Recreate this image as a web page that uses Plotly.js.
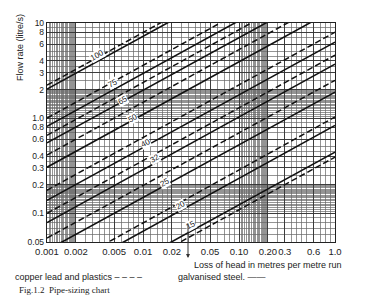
<!DOCTYPE html>
<html><head><meta charset="utf-8">
<script src="https://cdn.plot.ly/plotly-3.0.1.min.js"></script>
<style>html,body{margin:0;padding:0;background:#fff}#chart{width:368px;height:300px}</style>
</head><body><div id="chart"></div>
<script>
// tick labels
const xTickVals = [0.001,0.002,0.005,0.01,0.02,0.05,0.1,0.2,0.3,0.6,1.0];
const xTickText = ['0.001','0.002','0.005','0.01','0.02','0.05','0.10','0.20','0.3','0.6','1.0'];
const yTickVals = [10,8,6,4,3,2,1,0.8,0.6,0.4,0.3,0.2,0.1,0.05];
const yTickText = ['10','8','6','4','3','2','1.0','0.8','0.6','0.4','0.3','0.2','0.1','0.05'];

// pipe sizes (mm) and line end values (loss of head 0.001 and 1.0 m/m -> flow litre/s)
const headEnds = [0.001, 1.0];
const pipeSizes = ['100','75','65','50','40','32','25','20','15'];
const copperStart = [2.22, 1.0, 0.66, 0.41, 0.175, 0.10, 0.055, 0.022, 0.0085];
const copperEnd   = [102, 46, 30.5, 18.8, 8.0, 4.6, 2.5, 1.03, 0.39];
const steelStart  = [2.02, 0.82, 0.55, 0.305, 0.137, 0.080, 0.041, 0.018, 0.0096];
const steelEnd    = [93, 38, 25, 14, 6.3, 3.7, 1.88, 0.84, 0.44];
// label positions along the lines
const labelHead = [0.0033, 0.0048, 0.0061, 0.0077, 0.0105, 0.0133, 0.0169, 0.0243, 0.0309];
const labelFlow = [4.6, 2.33, 1.55, 1.0, 0.546, 0.379, 0.212, 0.121, 0.075];

// graph-paper grid
const mant = [1,1.2,1.4,1.6,1.8,2,2.5,3,3.5,4,4.5,5,6,7,8,9];
function gridVals(decades, dense) {
  const out = [];
  decades.forEach(d => {
    mant.forEach(m => out.push(m * d));
    if (dense.includes(d)) for (let k = 1; k < 20; k++) out.push((1 + k * 0.05) * d);
  });
  return out;
}
const xGrid = gridVals([0.001, 0.01, 0.1, 1], [0.001, 0.1]);
const yGrid = gridVals([0.01, 0.1, 1, 10], [0.1, 1]);

const traces = [];
pipeSizes.forEach((p, i) => {
  traces.push({x: headEnds, y: [copperStart[i], copperEnd[i]], mode: 'lines', type: 'scatter',
    line: {color: '#111', width: 1.5, dash: '6px,3px'}, hoverinfo: 'none'});
  traces.push({x: headEnds, y: [steelStart[i], steelEnd[i]], mode: 'lines', type: 'scatter',
    line: {color: '#111', width: 1.6}, hoverinfo: 'none'});
});

const annotations = pipeSizes.map((p, i) => ({
  x: Math.log10(labelHead[i]), y: Math.log10(labelFlow[i]), xref: 'x', yref: 'y',
  text: p, showarrow: false, textangle: -29, bgcolor: '#fff', borderpad: 0,
  font: {size: 8, color: '#222'}
}));
const P = (px) => (px - 47) / 288, Q = (py) => (242 - py) / 219;
const txt = (px, py, text, extra) => Object.assign({x: P(px), y: Q(py), xref: 'paper', yref: 'paper',
  xanchor: 'center', yanchor: 'middle', text: text, showarrow: false, font: {size: 9, color: '#222'}}, extra || {});
annotations.push(
  txt(20, 48, 'Flow rate (litre/s)', {textangle: -90}),
  txt(268, 265, 'Loss of head in metres per metre run'),
  txt(78, 277, 'copper lead and plastics – – – –'),
  txt(222, 277, 'galvanised steel. ——'),
  txt(64, 290, 'Fig.1.2  Pipe-sizing chart', {font: {size: 9, color: '#222', family: 'Liberation Serif, Times New Roman, serif'}}),
  {x: P(188), y: Q(258), xref: 'paper', yref: 'paper', text: '', showarrow: true, ax: 0, ay: -36,
   arrowhead: 2, arrowsize: 0.8, arrowwidth: 1, arrowcolor: '#333'}
);

const axisCommon = {type: 'log', showline: true, mirror: true, linecolor: '#222', linewidth: 1.2,
  ticks: '', gridcolor: '#333', gridwidth: 0.9, zeroline: false, tickfont: {size: 9.5, color: '#222'}};

const layout = {
  width: 368, height: 300, margin: {l: 47, r: 33, t: 23, b: 58},
  paper_bgcolor: '#fff', plot_bgcolor: '#fff', showlegend: false,
  font: {family: 'Liberation Sans, Arial, sans-serif', size: 10, color: '#222'},
  xaxis: Object.assign({}, axisCommon, {range: [-3, 0], tickmode: 'array', tickvals: xTickVals, ticktext: xTickText,
    tickangle: 0, automargin: false,
    minor: {tickmode: 'array', tickvals: xGrid, showgrid: true, gridcolor: '#666', gridwidth: 0.7, ticks: ''}}),
  yaxis: Object.assign({}, axisCommon, {range: [Math.log10(0.05), 1], tickmode: 'array', tickvals: yTickVals, ticktext: yTickText,
    automargin: false, tickfont: {size: 8.5, color: '#222'},
    minor: {tickmode: 'array', tickvals: yGrid, showgrid: true, gridcolor: '#666', gridwidth: 0.7, ticks: ''}}),
  annotations: annotations
};

Plotly.newPlot('chart', traces, layout, {staticPlot: true, displayModeBar: false});
</script>
</body></html>
